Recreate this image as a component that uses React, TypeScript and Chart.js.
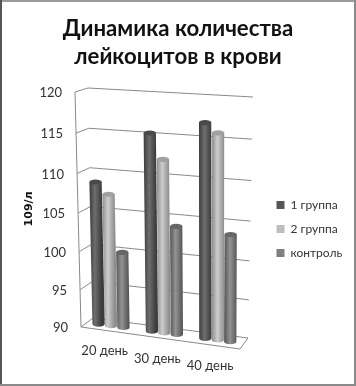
import React, { useEffect, useRef } from "react";
import { Chart, registerables } from "chart.js";

Chart.register(...registerables);

const categories = ["20 день", "30 день", "40 день"];
const group1 = [108.7, 115.4, 117.2];
const group2 = [107.3, 112.3, 116.1];
const control = [100.0, 104.1, 103.8];
const seriesNames = ["1 группа", "2 группа", "контроль"];
const seriesShades = [
  ["#3c3c3c", "#6e6e6e", "#4a4a4a"],
  ["#8e8e8e", "#cdcdcd", "#a0a0a0"],
  ["#575757", "#939393", "#666666"],
];
const legendColors = ["#555555", "#bdbdbd", "#808080"];
const axisMin = 90;
const axisMax = 120;
const fontFamily = "Lato, 'Open Sans', sans-serif";

const lerp = (a: number, b: number, k: number) => a + (b - a) * k;

// 3D look: maps (u across, t down, depth d: 0 back, 1 front) to the page
function project(u: number, t0: number, d: number) {
  const t = t0 + 0.06 * t0 * (1 - t0);
  const backL = [88 + 5 * t, 88 + 230 * t];
  const backR = [253 - 5 * t, 97 + 241 * t];
  const frontL = [75 + 6 * t, 92 + 235 * t];
  const frontR = [238 + 2 * t, 107 + 242 * t];
  const x = lerp(lerp(backL[0], backR[0], u), lerp(frontL[0], frontR[0], u), d);
  const y = lerp(lerp(backL[1], backR[1], u), lerp(frontL[1], frontR[1], u), d);
  return [x, y];
}

const uFrom = (a: any, px: number) => ((px - a.left) / (a.right - a.left)) * 1.02 - 0.017;

const perspectivePlugin = {
  id: "perspective",
  afterLayout(chart: any) {
    const lg = chart.legend;
    lg.top += 62;
    lg.left += 7;
    lg.right += 7;
  },
  beforeDraw(chart: any) {
    const { ctx, chartArea: a, scales } = chart;
    ctx.save();
    ctx.fillStyle = "#ffffff";
    ctx.fillRect(0, 0, chart.width, chart.height);
    ctx.restore();
    const tOf = (py: number) => (py - a.top) / (a.bottom - a.top);
    scales.y.getLabelItems().forEach((item: any) => {
      const t = tOf(scales.y.getPixelForValue(Number(item.label)));
      const p = project(0, t, 1);
      item.options.translation = [p[0] - 13, p[1] + 1];
    });
    scales.x.getLabelItems().forEach((item: any, i: number) => {
      const u = uFrom(a, scales.x.getPixelForTick(i));
      item.options.translation = [81 + u * 155, lerp(327, 349, u) + 13];
    });
  },
  beforeDatasetsDraw(chart: any) {
    const { ctx, chartArea: a, scales } = chart;
    const y = scales.y;
    ctx.save();
    ctx.strokeStyle = "#8a8a8a";
    ctx.lineWidth = 1;
    const line = (p: number[], q: number[]) => {
      ctx.beginPath();
      ctx.moveTo(p[0], p[1]);
      ctx.lineTo(q[0], q[1]);
      ctx.stroke();
    };
    y.ticks.forEach((tick: any) => {
      const t = (y.getPixelForValue(tick.value) - a.top) / (a.bottom - a.top);
      line(project(0, t, 1), project(0, t, 0));
      line(project(0, t, 0), project(1, t, 0));
    });
    line(project(0, 0, 1), project(0, 1, 1));
    line(project(0, 1, 1), project(1, 1, 1));
    line(project(1, 1, 1), project(1, 1, 0));
    ctx.restore();
  },
  beforeDatasetDraw(chart: any, args: any) {
    const { ctx, chartArea: a } = chart;
    const shades = seriesShades[args.index];
    const tOf = (py: number) => (py - a.top) / (a.bottom - a.top);
    ctx.save();
    args.meta.data.forEach((bar: any) => {
      const u = uFrom(a, bar.x);
      const hw = ((bar.width / 2) / (a.right - a.left)) * 158;
      const top = project(u, tOf(bar.y), 0.5);
      const base = project(u, tOf(bar.base), 0.5);
      const g = ctx.createLinearGradient(top[0] - hw, 0, top[0] + hw, 0);
      g.addColorStop(0, shades[0]);
      g.addColorStop(0.45, shades[1]);
      g.addColorStop(1, shades[0]);
      ctx.fillStyle = g;
      ctx.beginPath();
      ctx.moveTo(top[0] - hw, top[1]);
      ctx.lineTo(top[0] + hw, top[1]);
      ctx.lineTo(base[0] + hw, base[1]);
      ctx.ellipse(base[0], base[1], hw, 2.6, 0, 0, Math.PI);
      ctx.closePath();
      ctx.fill();
      ctx.fillStyle = shades[2];
      ctx.beginPath();
      ctx.ellipse(top[0], top[1], hw, 2.6, 0, 0, Math.PI * 2);
      ctx.fill();
    });
    ctx.restore();
    return false;
  },
  afterDraw(chart: any) {
    const { ctx } = chart;
    ctx.save();
    ctx.strokeStyle = "#9a9a9a";
    ctx.lineWidth = 2;
    ctx.beginPath();
    ctx.moveTo(0, 1);
    ctx.lineTo(356, 1);
    ctx.stroke();
    ctx.strokeStyle = "#555555";
    ctx.beginPath();
    ctx.moveTo(1, 0);
    ctx.lineTo(1, 386);
    ctx.stroke();
    ctx.strokeStyle = "#8a8a8a";
    ctx.beginPath();
    ctx.moveTo(355, 0);
    ctx.lineTo(355, 386);
    ctx.moveTo(0, 385);
    ctx.lineTo(356, 385);
    ctx.stroke();
    ctx.restore();
  },
};

export default function App() {
  const ref = useRef<HTMLCanvasElement>(null);
  useEffect(() => {
    document.body.style.margin = "0";
    const chart = new Chart(ref.current as HTMLCanvasElement, {
      type: "bar",
      data: {
        labels: categories,
        datasets: [group1, group2, control].map((data, i) => ({
          label: seriesNames[i],
          data,
          base: axisMin,
          backgroundColor: legendColors[i],
          categoryPercentage: 0.7,
          barPercentage: 1,
        })),
      },
      options: {
        responsive: false,
        animation: false,
        layout: { padding: { top: 14, left: 19, right: 19, bottom: 4 } },
        scales: {
          x: {
            afterFit: (s: any) => {
              s.height = 48;
            },
            grid: { display: false },
            border: { display: false },
            ticks: { font: { family: fontFamily, size: 13 }, color: "#333333", maxRotation: 0 },
          },
          y: {
            min: axisMin,
            max: axisMax,
            grid: { display: false },
            border: { display: false },
            ticks: { stepSize: 5, font: { family: fontFamily, size: 13 }, color: "#333333" },
            title: {
              display: true,
              text: "109/л",
              color: "#111111",
              font: { family: "'DejaVu Sans'", size: 11, weight: "bold" },
            },
          },
        },
        plugins: {
          title: {
            display: true,
            text: ["Динамика количества", "лейкоцитов в крови"],
            color: "#111111",
            font: { family: fontFamily, size: 22.2, weight: "bold", lineHeight: 1.3 },
            padding: { top: 0, bottom: 12 },
          },
          legend: {
            position: "right",
            labels: {
              boxWidth: 8,
              boxHeight: 8,
              padding: 12,
              color: "#333333",
              font: { family: fontFamily, size: 12 },
            },
          },
          tooltip: { enabled: false },
        },
      },
      plugins: [perspectivePlugin],
    } as any);
    return () => chart.destroy();
  }, []);
  return <canvas ref={ref} width={356} height={386} style={{ display: "block" }} />;
}
